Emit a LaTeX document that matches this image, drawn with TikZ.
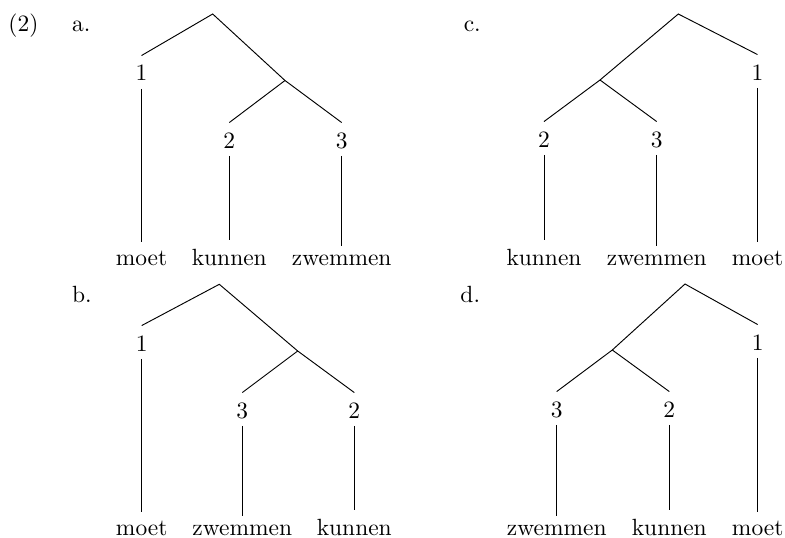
\documentclass[tikz,border=0pt]{standalone}
\begin{document}
\begin{tikzpicture}[x=0.4264pt,y=-0.4264pt,
  lab/.style={anchor=base, inner xsep=2pt, inner ysep=3.2pt, text height=7.45pt, text depth=0pt},
  leaf/.style={anchor=base},
  tag/.style={anchor=base west, inner sep=0pt},
  br/.style={draw=black, line width=0.4pt}]
\useasboundingbox (0,0) rectangle (785,538);
% labels
\node[tag] (ex) at (8,32) {(2)};
\node[tag] (la) at (71.7,32) {a.};
\node[tag] (lc) at (463.3,32) {c.};
\node[tag] (lb) at (71.7,302) {b.};
\node[tag] (ld) at (460,302) {d.};
% tree a
\coordinate (ar) at (212.7,14);
\coordinate (ai) at (285,80.5);
\node[lab] (a1) at (141.5,81) {1};
\node[lab] (a2) at (229.3,148) {2};
\node[lab] (a3) at (341.7,148) {3};
\node[leaf] (am) at (141.5,265) {moet};
\node[leaf] (ak) at (229.3,265) {kunnen};
\node[leaf] (az) at (341.7,265) {zwemmen};
\draw[br] (a1.north) -- (ar) -- (ai) -- (a3.north);
\draw[br] (ai) -- (a2.north);
\draw[br] (a1.south) -- (am.north);
\draw[br] (a2.south) -- (ak.north);
\draw[br] (a3.south) -- (az.north);
% tree c
\coordinate (cr) at (678.3,14);
\coordinate (ci) at (600,80);
\node[lab] (c1) at (757.5,80) {1};
\node[lab] (c2) at (544,147) {2};
\node[lab] (c3) at (656.7,147) {3};
\node[leaf] (cm) at (757.5,265) {moet};
\node[leaf] (ck) at (544,265) {kunnen};
\node[leaf] (cz) at (656.7,265) {zwemmen};
\draw[br] (c1.north) -- (cr) -- (ci) -- (c2.north);
\draw[br] (ci) -- (c3.north);
\draw[br] (c1.south) -- (cm.north);
\draw[br] (c2.south) -- (ck.north);
\draw[br] (c3.south) -- (cz.north);
% tree b
\coordinate (br) at (219.3,284.3);
\coordinate (bi) at (297.7,351);
\node[lab] (b1) at (141.7,351) {1};
\node[lab] (b3) at (242.3,418) {3};
\node[lab] (b2) at (354.3,418) {2};
\node[leaf] (bm) at (141.7,535) {moet};
\node[leaf] (bz) at (242.3,535) {zwemmen};
\node[leaf] (bk) at (354.3,535) {kunnen};
\draw[br] (b1.north) -- (br) -- (bi) -- (b2.north);
\draw[br] (bi) -- (b3.north);
\draw[br] (b1.south) -- (bm.north);
\draw[br] (b3.south) -- (bz.north);
\draw[br] (b2.south) -- (bk.north);
% tree d
\coordinate (dr) at (685,284);
\coordinate (di) at (612.3,350);
\node[lab] (d1) at (757.7,350) {1};
\node[lab] (d3) at (556.7,417) {3};
\node[lab] (d2) at (669.3,417) {2};
\node[leaf] (dm) at (757.7,535) {moet};
\node[leaf] (dz) at (556.7,535) {zwemmen};
\node[leaf] (dk) at (669.3,535) {kunnen};
\draw[br] (d1.north) -- (dr) -- (di) -- (d3.north);
\draw[br] (di) -- (d2.north);
\draw[br] (d1.south) -- (dm.north);
\draw[br] (d3.south) -- (dz.north);
\draw[br] (d2.south) -- (dk.north);
\end{tikzpicture}
\end{document}
